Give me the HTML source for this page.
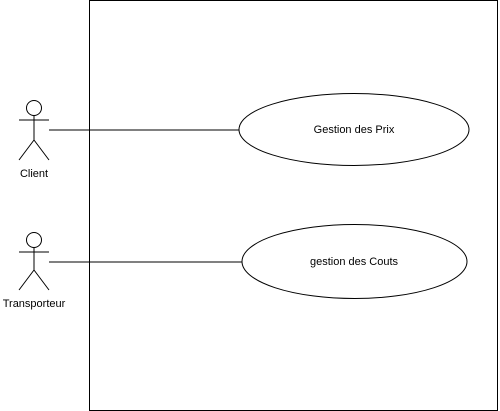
<!DOCTYPE html>
<html><head><style>body{margin:0;background:#fff}svg{display:block}</style></head><body>
<svg width="500" height="411" xmlns="http://www.w3.org/2000/svg" font-family="Liberation Sans, sans-serif" font-size="11">
<rect x="89.5" y="0.5" width="408" height="410" fill="#fff" stroke="#000"/>
<g fill="none" stroke="#000">
<circle cx="34" cy="108" r="7.5" fill="#fff"/>
<path d="M34 116V140M19 120H49M34 140L19 160M34 140L49 160"/>
<circle cx="34" cy="240" r="7.5" fill="#fff"/>
<path d="M34 248V270M19 252H49M34 270L19 290M34 270L49 290"/>
<path d="M49 130H239M49 262H242"/>
<ellipse cx="354" cy="129.5" rx="115" ry="36" fill="#fff"/>
<ellipse cx="354.5" cy="261.5" rx="112.5" ry="37" fill="#fff"/>
</g>
<g fill="#000" text-anchor="middle">
<text x="34" y="177">Client</text>
<text x="34" y="307">Transporteur</text>
<text x="354" y="133">Gestion des Prix</text>
<text x="354" y="265">gestion des Couts</text>
</g>
</svg>
</body></html>
